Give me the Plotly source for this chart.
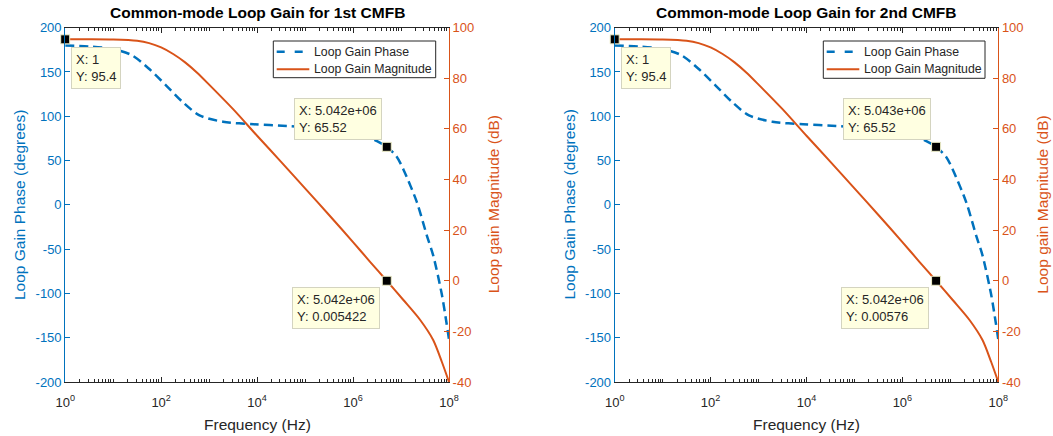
import math
import plotly.graph_objects as go

# ---------------- data ----------------
freq_tick_vals = [1, 1e2, 1e4, 1e6, 1e8]
freq_tick_text = ["10<sup>0</sup>", "10<sup>2</sup>", "10<sup>4</sup>", "10<sup>6</sup>", "10<sup>8</sup>"]
phase_tick_vals = [-200, -150, -100, -50, 0, 50, 100, 150, 200]
mag_tick_vals = [-40, -20, 0, 20, 40, 60, 80, 100]

# loop gain magnitude (Hz -> dB)
mag_freq = [1, 3.16, 10, 31.6, 56.2, 100, 178, 316, 562, 1000, 3162, 1e4, 3.162e4,
            1e5, 3.162e5, 1e6, 2.24e6, 5.042e6, 1.12e7, 2.51e7, 4.68e7, 7.08e7, 1e8]
mag_db_1 = [95.4, 95.4, 95.3, 94.8, 93.9, 92.2, 89.6, 86.3, 82.2, 77.5, 67.8, 57.3, 47.0,
            36.5, 26.0, 15.3, 7.6, 0.005, -7.6, -15.5, -23.4, -32.0, -40.0]
mag_db_2 = [95.4, 95.4, 95.3, 94.8, 93.9, 92.2, 89.6, 86.3, 82.2, 77.5, 67.8, 57.3, 47.0,
            36.5, 26.0, 15.3, 7.6, 0.006, -7.6, -15.5, -23.4, -32.0, -40.0]

# loop gain phase (Hz -> degrees)
phase_freq = [1, 3.16, 10, 24.5, 55, 126, 282, 631, 1950, 8510, 4.17e4, 1e5, 3.162e5,
              1e6, 1.78e6, 3.16e6, 5.042e6, 8.13e6, 1.12e7, 2.14e7, 3.47e7, 4.68e7, 7.08e7, 8.91e7, 1e8]
phase_deg_1 = [180, 178.8, 175.8, 169, 154, 135, 116, 101, 93.8, 91, 89, 87.5, 85.5,
               82, 78, 72, 65.52, 54.4, 40, 3, -35, -57, -101, -134, -152]
phase_deg_2 = [180, 178.8, 175.8, 169, 154, 135, 116, 101, 93.8, 91, 89, 87.5, 85.5,
               82, 78, 72, 65.52, 54.4, 40, 3, -35, -57, -101, -134, -152]

# data tips: (x, y)
tips_1 = {"dc": (1, 95.4), "phase": (5.042e6, 65.52), "mag": (5.042e6, 0.005422)}
tips_2 = {"dc": (1, 95.4), "phase": (5.043e6, 65.52), "mag": (5.042e6, 0.00576)}
tip_text_1 = {"dc": "X: 1<br>Y: 95.4", "phase": "X: 5.042e+06<br>Y: 65.52", "mag": "X: 5.042e+06<br>Y: 0.005422"}
tip_text_2 = {"dc": "X: 1<br>Y: 95.4", "phase": "X: 5.043e+06<br>Y: 65.52", "mag": "X: 5.042e+06<br>Y: 0.00576"}

titles = ["Common-mode Loop Gain for 1st CMFB", "Common-mode Loop Gain for 2nd CMFB"]
legend_names = ["Loop Gain Phase", "Loop Gain Magnitude"]

# ---------------- styling ----------------
W, H = 1053, 436
BLUE = "#0072BD"
ORANGE = "#D95319"
DARK = "#262626"
FONT = "Liberation Sans, Arial, Helvetica, sans-serif"

# pixel geometry of the two axes boxes
plots_px = [(65.2, 449.0), (614.7, 998.3)]
y_top_px, y_bot_px = 27.7, 382.0
legend_px = [(273.3, 41.0, 435.7, 77.7), (823.3, 41.0, 985.0, 78.3)]


def px_x(p):
    return p / W


def px_y(p):
    return 1 - p / H


fig = go.Figure()

annotations = []
shapes = []
layout_axes = {}

for i in range(2):
    xa = "x" if i == 0 else "x2"
    ya_ph = "y" if i == 0 else "y3"
    ya_mg = "y2" if i == 0 else "y4"
    phase = phase_deg_1 if i == 0 else phase_deg_2
    mag = mag_db_1 if i == 0 else mag_db_2
    tips = tips_1 if i == 0 else tips_2
    tip_text = tip_text_1 if i == 0 else tip_text_2

    fig.add_trace(go.Scatter(x=phase_freq, y=phase, mode="lines", name=legend_names[0], showlegend=False,
                             line=dict(color=BLUE, width=2.5, dash="9px,5px", shape="spline", smoothing=0.8),
                             xaxis=xa, yaxis=ya_ph))
    fig.add_trace(go.Scatter(x=mag_freq, y=mag, mode="lines", name=legend_names[1], showlegend=False,
                             line=dict(color=ORANGE, width=2, shape="spline", smoothing=0.8),
                             xaxis=xa, yaxis=ya_mg))

    # data-tip markers
    for key, yax in (("dc", ya_mg), ("phase", ya_ph), ("mag", ya_mg)):
        tx, ty = tips[key]
        fig.add_trace(go.Scatter(x=[tx], y=[ty], mode="markers", showlegend=False,
                                 marker=dict(symbol="square", size=9, color="black",
                                             line=dict(color="#EDEDC8", width=1)),
                                 cliponaxis=False, xaxis=xa, yaxis=yax, hoverinfo="skip"))
    tip_layout = {
        "dc": dict(xanchor="left", yanchor="top", xshift=6, yshift=-8, yref=ya_mg),
        "phase": dict(xanchor="right", yanchor="bottom", xshift=-5, yshift=7, yref=ya_ph),
        "mag": dict(xanchor="right", yanchor="top", xshift=-7, yshift=-6, yref=ya_mg),
    }
    for key in ("dc", "phase", "mag"):
        tx, ty = tips[key]
        annotations.append(dict(x=math.log10(tx), y=ty, xref=xa, text=tip_text[key], showarrow=False,
                                align="left", bgcolor="#FFFFE1", bordercolor="#D4D4C0", borderwidth=1,
                                borderpad=4, font=dict(family=FONT, size=13, color=DARK),
                                **tip_layout[key]))

    x0, x1 = plots_px[i]
    xdom = [px_x(x0), px_x(x1)]
    ydom = [px_y(y_bot_px), px_y(y_top_px)]
    xkey = "xaxis" if i == 0 else "xaxis2"
    ykey_ph = "yaxis" if i == 0 else "yaxis3"
    ykey_mg = "yaxis2" if i == 0 else "yaxis4"

    layout_axes[xkey] = dict(
        type="log", domain=xdom, range=[0, 8], anchor=ya_ph,
        tickmode="array", tickvals=freq_tick_vals, ticktext=freq_tick_text,
        ticks="inside", ticklen=5, tickcolor=DARK, showline=True, linecolor=DARK, linewidth=1,
        mirror="ticks", showgrid=False, zeroline=False, ticklabelstandoff=8,
        tickfont=dict(family=FONT, size=13, color=DARK),
        minor=dict(ticks="inside", ticklen=3, tickcolor=DARK, dtick="D1", showgrid=False),
    )
    layout_axes[ykey_ph] = dict(
        domain=ydom, range=[-200, 200], anchor=xa,
        tickmode="array", tickvals=phase_tick_vals, ticktext=[str(v) for v in phase_tick_vals],
        ticks="inside", ticklen=5, tickcolor=BLUE, showline=True, linecolor=BLUE, linewidth=1,
        showgrid=False, zeroline=False, tickfont=dict(family=FONT, size=13, color=BLUE),
    )
    layout_axes[ykey_mg] = dict(
        range=[-40, 100], anchor=xa, overlaying=ya_ph, side="right",
        tickmode="array", tickvals=mag_tick_vals, ticktext=[str(v) for v in mag_tick_vals],
        ticks="inside", ticklen=5, tickcolor=ORANGE, showline=True, linecolor=ORANGE, linewidth=1,
        showgrid=False, zeroline=False, tickfont=dict(family=FONT, size=13, color=ORANGE),
    )

    # titles and axis labels
    xc = (x0 + x1) / 2
    annotations.append(dict(x=px_x(xc), y=px_y(13), xref="paper", yref="paper", showarrow=False,
                            text="<b>" + titles[i] + "</b>", xanchor="center", yanchor="middle",
                            font=dict(family=FONT, size=15.5, color="black")))
    annotations.append(dict(x=px_x(xc), y=px_y(424), xref="paper", yref="paper", showarrow=False,
                            text="Frequency (Hz)", xanchor="center", yanchor="middle",
                            font=dict(family=FONT, size=15.5, color=DARK)))
    yc = (y_top_px + y_bot_px) / 2
    annotations.append(dict(x=px_x(x0 - 45), y=px_y(yc), xref="paper", yref="paper", showarrow=False,
                            text="Loop Gain Phase (degrees)", textangle=-90, xanchor="center", yanchor="middle",
                            font=dict(family=FONT, size=15.5, color=BLUE)))
    annotations.append(dict(x=px_x(x1 + 44.5), y=px_y(yc), xref="paper", yref="paper", showarrow=False,
                            text="Loop gain Magnitude (dB)", textangle=-90, xanchor="center", yanchor="middle",
                            font=dict(family=FONT, size=15.5, color=ORANGE)))

    # legend (drawn by hand so its box matches the reference)
    lx0, ly0, lx1, ly1 = legend_px[i]
    shapes.append(dict(type="rect", xref="paper", yref="paper", x0=px_x(lx0), x1=px_x(lx1),
                       y0=px_y(ly1), y1=px_y(ly0), line=dict(color=DARK, width=1), fillcolor="white",
                       layer="above"))
    row_y = [ly0 + 10.7, ly0 + 28.3]
    shapes.append(dict(type="line", xref="paper", yref="paper", x0=px_x(lx0 + 3.4), x1=px_x(lx0 + 30),
                       y0=px_y(row_y[0]), y1=px_y(row_y[0]), line=dict(color=BLUE, width=2.5, dash="8px,10px"),
                       layer="above"))
    shapes.append(dict(type="line", xref="paper", yref="paper", x0=px_x(lx0 + 3.4), x1=px_x(lx0 + 36),
                       y0=px_y(row_y[1]), y1=px_y(row_y[1]), line=dict(color=ORANGE, width=2),
                       layer="above"))
    for k in range(2):
        annotations.append(dict(x=px_x(lx0 + 39), y=px_y(row_y[k]), xref="paper", yref="paper",
                                showarrow=False, text=legend_names[k], xanchor="left", yanchor="middle",
                                font=dict(family=FONT, size=12.3, color=DARK)))

fig.update_layout(
    width=W, height=H, autosize=False,
    margin=dict(l=0, r=0, t=0, b=0, pad=0, autoexpand=False),
    paper_bgcolor="white", plot_bgcolor="white",
    font=dict(family=FONT, color=DARK),
    showlegend=False,
    annotations=annotations,
    shapes=shapes,
    **layout_axes,
)

# the page's default 8px body margin would shift the figure; remove it
fig.write_html("out.html", config={"displayModeBar": False},
               post_script="document.body.style.margin='0px';")
